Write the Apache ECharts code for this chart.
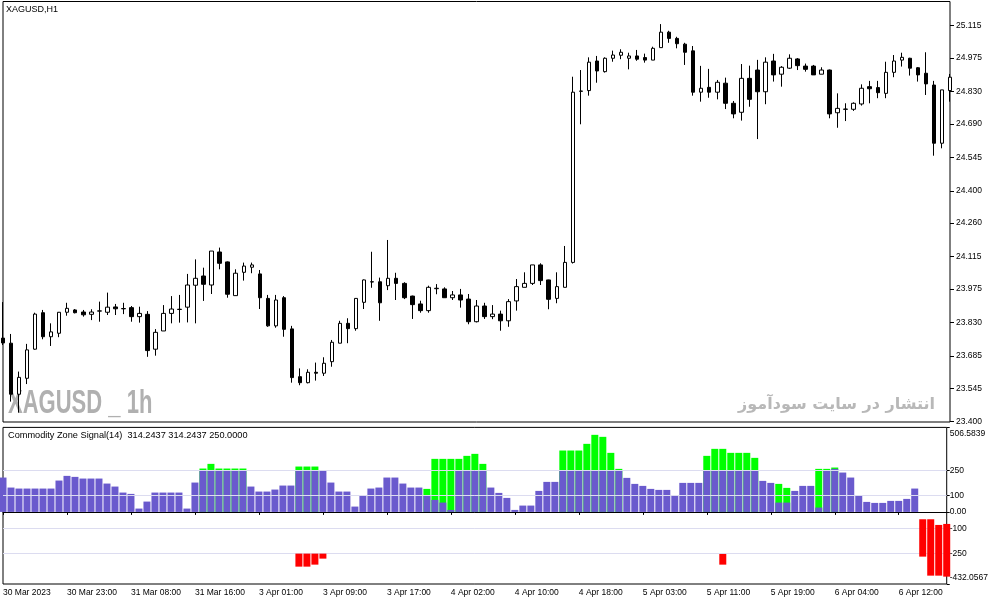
<!DOCTYPE html>
<html><head><meta charset="utf-8">
<script src="https://cdn.jsdelivr.net/npm/echarts@6/dist/echarts.min.js"></script>
<style>html,body{margin:0;padding:0;background:#fff}#c{width:991px;height:605px}</style>
</head><body><div id="c"></div>
<script>
// ---- categories (H1 bars, daily break at 00:00, weekend skipped) ----
const dayHours = [['30 Mar',15,23],['31 Mar',1,23],['3 Apr',1,23],['4 Apr',1,23],['5 Apr',1,23],['6 Apr',1,18]];
const categories = [];
dayHours.forEach(([d,h0,h1]) => { for (let h=h0; h<=h1; h++) categories.push(d+' '+String(h).padStart(2,'0')+':00'); });
const xTickLabels = ['30 Mar 2023','30 Mar 23:00','31 Mar 08:00','31 Mar 16:00','3 Apr 01:00','3 Apr 09:00','3 Apr 17:00','4 Apr 02:00','4 Apr 10:00','4 Apr 18:00','5 Apr 03:00','5 Apr 11:00','5 Apr 19:00','6 Apr 04:00','6 Apr 12:00'];

// ---- XAGUSD H1 prices ----
const openP = [
23.762,23.740,23.519,23.588,23.714,23.872,23.768,23.783,23.874,23.884,
23.875,23.865,23.879,23.874,23.897,23.890,23.894,23.855,23.865,23.714,
23.793,23.869,23.887,23.896,23.991,24.031,23.992,24.135,24.092,23.946,
24.047,24.069,24.040,23.934,23.815,23.937,23.802,23.595,23.569,23.614,
23.610,23.660,23.740,23.826,23.803,23.917,24.006,24.006,23.989,24.021,
23.999,23.944,23.910,23.881,23.976,23.975,23.937,23.949,23.931,23.833,
23.901,23.855,23.866,23.837,23.923,23.982,23.999,24.079,24.014,23.934,
23.982,24.090,24.832,24.834,24.962,24.916,24.974,24.987,24.974,24.984,
24.977,24.966,25.020,25.087,25.060,25.035,25.006,24.827,24.848,24.827,
24.866,24.779,24.740,24.887,24.923,24.829,24.962,24.905,24.931,24.971,
24.940,24.940,24.905,24.923,24.738,24.754,24.753,24.776,24.851,24.847,
24.822,24.913,24.966,24.974,24.933,24.909,24.858,24.606,24.834];
const highP = [
23.918,23.780,23.617,23.737,23.872,23.884,23.826,23.875,23.915,23.888,
23.884,23.887,23.920,23.959,23.910,23.915,23.901,23.898,23.879,23.801,
23.905,23.944,23.949,24.040,24.103,24.067,24.139,24.154,24.094,24.060,
24.089,24.089,24.057,23.949,23.949,23.944,23.815,23.631,23.627,23.656,
23.679,23.754,23.837,23.848,23.935,24.016,24.136,24.024,24.187,24.045,
24.004,23.946,23.924,23.989,23.996,23.982,23.966,23.975,23.953,23.927,
23.915,23.905,23.881,23.931,24.018,24.047,24.079,24.086,24.015,24.047,
24.161,24.894,24.923,24.978,24.984,24.978,25.007,25.013,24.998,25.010,
24.994,25.024,25.122,25.093,25.067,25.041,25.027,24.941,24.928,24.880,
24.890,24.789,24.949,24.942,24.967,24.978,24.993,24.940,24.991,24.975,
24.951,24.945,24.935,24.925,24.822,24.779,24.783,24.861,24.876,24.876,
24.959,24.988,24.998,24.976,24.936,25.000,24.876,24.837,24.906];
const lowP = [
23.732,23.487,23.439,23.563,23.712,23.757,23.728,23.766,23.859,23.869,
23.855,23.840,23.833,23.862,23.862,23.866,23.833,23.829,23.681,23.686,
23.793,23.826,23.829,23.830,23.826,23.923,23.953,24.060,23.937,23.945,
24.011,24.043,23.888,23.811,23.807,23.768,23.569,23.558,23.566,23.578,
23.598,23.638,23.740,23.740,23.794,23.888,23.980,23.837,23.970,23.927,
23.931,23.845,23.872,23.872,23.952,23.937,23.927,23.894,23.822,23.830,
23.845,23.844,23.794,23.811,23.881,23.982,23.992,23.992,23.887,23.913,
23.982,24.085,24.688,24.812,24.868,24.912,24.959,24.970,24.926,24.963,
24.955,24.966,25.020,25.041,25.017,24.945,24.812,24.786,24.803,24.796,
24.754,24.714,24.704,24.764,24.624,24.775,24.873,24.851,24.928,24.923,
24.916,24.902,24.905,24.714,24.673,24.702,24.746,24.769,24.779,24.801,
24.801,24.892,24.938,24.899,24.873,24.815,24.552,24.584,24.786];
const closeP = [
23.741,23.519,23.592,23.711,23.866,23.768,23.789,23.874,23.891,23.872,
23.863,23.875,23.880,23.896,23.889,23.889,23.855,23.869,23.708,23.787,
23.869,23.888,23.886,23.992,24.021,23.995,24.139,24.086,23.952,24.043,
24.074,24.079,23.937,23.815,23.927,23.800,23.591,23.569,23.614,23.610,
23.653,23.744,23.826,23.803,23.934,24.014,24.005,23.915,24.021,23.999,
23.937,23.907,23.881,23.982,23.978,23.937,23.949,23.927,23.833,23.901,
23.855,23.866,23.837,23.920,23.985,23.999,24.079,24.011,23.930,23.985,
24.090,24.827,24.831,24.957,24.919,24.974,24.988,25.000,24.984,24.970,
24.966,25.017,25.087,25.060,25.037,25.000,24.827,24.844,24.827,24.870,
24.779,24.733,24.887,24.796,24.829,24.957,24.902,24.935,24.974,24.942,
24.926,24.902,24.923,24.733,24.757,24.753,24.779,24.844,24.842,24.825,
24.913,24.962,24.978,24.931,24.902,24.863,24.606,24.837,24.892];
const priceTicks = [23.400,23.545,23.685,23.830,23.975,24.115,24.260,24.400,24.545,24.690,24.830,24.975,25.115];
const priceMin = 23.3987, priceMax = 25.2198;

// ---- Commodity Zone Signal(14) ----
const purpleZone = [
206,146,140,140,140,140,140,188,216,210,
200,200,200,170,152,116,108,20,62,116,
116,116,116,20,176,250,250,250,250,250,
250,152,122,122,134,158,158,250,250,250,
250,176,122,122,32,98,140,146,206,206,
170,146,146,98,72,56,12,250,250,250,
250,146,114,84,12,38,38,126,180,180,
250,250,250,250,250,250,250,250,204,168,
156,138,132,132,98,174,174,174,250,250,
250,250,250,250,250,186,174,56,56,126,
156,156,26,250,258,236,206,98,60,54,
54,66,66,78,140,0,0,0,0];
const greenZone = [
0,0,0,0,0,0,0,0,0,0,
0,0,0,0,0,0,0,0,0,0,
0,0,0,0,0,260,288,260,260,260,
260,0,0,0,0,0,0,272,272,272,
0,0,0,0,0,0,0,0,0,0,
0,0,0,138,318,318,318,318,336,348,
288,0,0,0,0,0,0,0,0,0,
368,368,368,408,462,450,354,258,0,0,
0,0,0,0,0,0,0,0,336,378,
378,354,354,354,324,0,0,168,144,0,
0,0,258,258,266,0,0,0,0,0,
0,0,0,0,0,0,0,0,0];
// [bar index, top, bottom]
const redZone = [[37,-250,-328],[38,-250,-328],[39,-250,-316],[40,-250,-280],[90,-252,-316],[115,-44,-268],[116,-44,-382],[117,-78,-382],[118,-72,-388]];
const indLevels = [250,100,-100,-250];
const indTicks = [506.5839,250,100,0,-100,-250,-432.0567];
const indTickLabels = ['506.5839','250','100','0.00','-100','-250','-432.0567'];
const indMin = -432.0567, indMax = 506.5839;
const indValues = ['314.2437','314.2437','250.0000'];

const redBase = categories.map(() => null);
const redBody = categories.map(() => null);
redZone.forEach(([i,t,b]) => { redBase[i] = t; redBody[i] = b - t; });

const FONT = 'Liberation Sans';
const chart = echarts.init(document.getElementById('c'), null, {renderer:'canvas'});
chart.setOption({
  animation: false,
  textStyle: {fontFamily: FONT},
  grid: [
    {left:3, right:41, top:1.5, height:420.5, show:true, borderColor:'#000', borderWidth:1, backgroundColor:'rgba(0,0,0,0)'},
    {left:3, right:41, top:427.4, height:156.6, show:true, borderColor:'#000', borderWidth:1, backgroundColor:'rgba(0,0,0,0)'}
  ],
  xAxis: [
    {type:'category', gridIndex:0, data:categories, boundaryGap:false, show:false},
    {type:'category', gridIndex:1, data:categories, boundaryGap:false,
     axisLine:{show:true, lineStyle:{color:'#000', width:1}},
     axisTick:{show:true, interval:7, length:3, lineStyle:{color:'#000'}},
     axisLabel:{interval:7, align:'left', margin:4, color:'#000', fontSize:8.5, fontFamily:FONT,
       formatter:(v,i) => xTickLabels[Math.round(i/8)] || ''},
     splitLine:{show:false}}
  ],
  yAxis: [
    {type:'value', gridIndex:0, position:'right', min:priceMin, max:priceMax, scale:true,
     splitLine:{show:false}, axisLine:{show:false},
     axisTick:{show:true, length:4, customValues:priceTicks, lineStyle:{color:'#000'}},
     axisLabel:{customValues:priceTicks, formatter:v => v.toFixed(3), margin:6, color:'#000', fontSize:8.5, fontFamily:FONT}},
    {type:'value', gridIndex:1, position:'right', min:indMin, max:indMax,
     splitLine:{show:false}, axisLine:{show:false},
     axisTick:{show:true, length:3, customValues:indTicks, lineStyle:{color:'#000'}},
     axisLabel:{customValues:indTicks, margin:3, color:'#000', fontSize:8.5, fontFamily:FONT,
       formatter:v => {
         let k = 0, best = 1e9;
         indTicks.forEach((t,j) => { const d = Math.abs(t - v); if (d < best) { best = d; k = j; } });
         if (k === 0) return '{t|' + indTickLabels[k] + '}';
         if (k === indTicks.length - 1) return '{b|' + indTickLabels[k] + '}';
         return indTickLabels[k];
       },
       rich:{
         t:{padding:[13,0,0,0], fontSize:8.5, color:'#000', fontFamily:FONT},
         b:{padding:[0,0,13,0], fontSize:8.5, color:'#000', fontFamily:FONT}
       }}}
  ],
  graphic: [
    {type:'text', x:6, y:10, z:10, style:{text:'XAGUSD,H1', fill:'#000', fontSize:9, fontFamily:FONT, verticalAlign:'middle'}},
    {type:'text', x:8, y:435.5, z:10, style:{text:'Commodity Zone Signal(14)  ' + indValues.join(' '), fill:'#000', fontSize:9.2, fontFamily:FONT, verticalAlign:'middle'}},
    {type:'text', x:8, y:404, scaleX:0.667, z:0, style:{text:'XAGUSD _ 1h', fill:'#b0b0b0', fontSize:33, fontWeight:'bold', fontFamily:FONT, verticalAlign:'middle'}},
    {type:'text', x:935, y:405, z:0, style:{text:'انتشار در سایت سودآموز', fill:'#b8b8b8', fontSize:16, fontWeight:'bold', fontFamily:'DejaVu Sans', align:'right', verticalAlign:'middle'}}
  ],
  series: [
    {type:'candlestick', xAxisIndex:0, yAxisIndex:0, barWidth:4, z:3,
     data: categories.map((_,i) => [openP[i], closeP[i], lowP[i], highP[i]]),
     itemStyle:{color:'#fff', color0:'#000', borderColor:'#000', borderColor0:'#000', borderWidth:1}},
    {type:'bar', name:'green', xAxisIndex:1, yAxisIndex:1, data:greenZone, barWidth:7, barGap:'-100%', z:2,
     itemStyle:{color:'#00ff00'}},
    {type:'bar', name:'purple', xAxisIndex:1, yAxisIndex:1, data:purpleZone, barWidth:7, barGap:'-100%', z:3,
     itemStyle:{color:'#6a5acd'},
     markLine:{silent:true, symbol:['none','none'], animation:false, z:5, label:{show:false},
       lineStyle:{color:'#dcdcf0', type:'solid', width:1},
       emphasis:{disabled:true},
       data: indLevels.map(v => ({yAxis:v}))}},
    {type:'bar', name:'redBase', xAxisIndex:1, yAxisIndex:1, stack:'red', data:redBase, barWidth:7, barGap:'-100%', z:6,
     itemStyle:{color:'rgba(0,0,0,0)'}},
    {type:'bar', name:'red', xAxisIndex:1, yAxisIndex:1, stack:'red', data:redBody, barWidth:7, barGap:'-100%', z:6,
     itemStyle:{color:'#ff0000'}}
  ]
});
</script>
</body></html>
